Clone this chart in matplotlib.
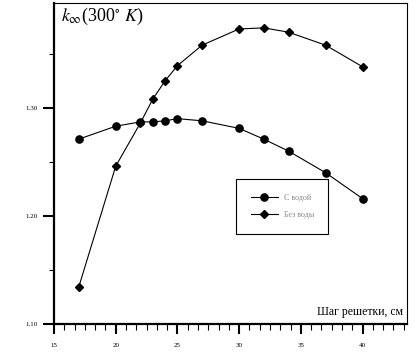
import matplotlib
matplotlib.use("Agg")
import matplotlib.pyplot as plt
from matplotlib.ticker import MultipleLocator, FixedLocator

plt.rcParams['font.family'] = ['Liberation Serif', 'DejaVu Serif']
plt.rcParams['mathtext.fontset'] = 'stix'

x_vals = [17, 20, 22, 23, 24, 25, 27, 30, 32, 34, 37, 40]
with_water = [1.271, 1.283, 1.287, 1.287, 1.288, 1.290, 1.288, 1.281, 1.271, 1.260, 1.240, 1.216]
without_water = [1.134, 1.246, 1.286, 1.308, 1.325, 1.339, 1.358, 1.373, 1.374, 1.370, 1.358, 1.338]
labels = ["С водой", "Без воды"]
x_ticks = [15, 20, 25, 30, 35, 40]
y_ticks = [1.10, 1.20, 1.30]
y_tick_labels = ["1.10", "1.20", "1.30"]

fig = plt.figure(figsize=(4.19, 3.52), dpi=100)
ax = fig.add_axes([54/419, 1-324/352, (407-54)/419, (324-3)/352])

ax.plot(x_vals, with_water, color='black', lw=0.8, marker='o', ms=5.2, label=labels[0])
ax.plot(x_vals, without_water, color='black', lw=0.8, marker='D', ms=4.3, label=labels[1])

ax.set_xlim(15, 43.6)
ax.set_ylim(1.10, 1.397)
ax.xaxis.set_major_locator(FixedLocator(x_ticks))
ax.xaxis.set_minor_locator(MultipleLocator(5/6))
ax.yaxis.set_major_locator(FixedLocator(y_ticks))
ax.set_yticklabels(y_tick_labels)
ax.yaxis.set_minor_locator(FixedLocator([1.15, 1.25, 1.35]))

ax.tick_params(axis='x', which='major', direction='out', length=7, width=1.5, labelsize=5, pad=7)
ax.tick_params(axis='x', which='minor', direction='out', length=4.3, width=0.8)
ax.tick_params(axis='y', which='major', direction='out', length=8, width=1.5, labelsize=5, pad=4)
ax.tick_params(axis='y', which='minor', direction='out', length=3.6, width=0.8)

ax.spines['left'].set_linewidth(1.6)
ax.spines['bottom'].set_linewidth(1.6)
ax.spines['top'].set_linewidth(0.8)
ax.spines['right'].set_linewidth(0.8)

ax.text(0.02, 0.99, r'$k_{\infty}$(300$^{\circ}$ $K$)', transform=ax.transAxes,
        ha='left', va='top', fontsize=13)
ax.text(0.989, 0.02, "Шаг решетки, см", transform=ax.transAxes,
        ha='right', va='bottom', fontsize=8.5)

leg = ax.legend(loc='upper left', bbox_to_anchor=(0.5156, 0.4517), borderaxespad=0,
                fontsize=5.8, handlelength=3.4, handletextpad=0.7, borderpad=1.8,
                labelspacing=1.2, fancybox=False, edgecolor='black', framealpha=1)
leg.get_frame().set_linewidth(0.8)
for t in leg.get_texts():
    t.set_color('#888888')

fig.savefig('out.png', dpi=100)
